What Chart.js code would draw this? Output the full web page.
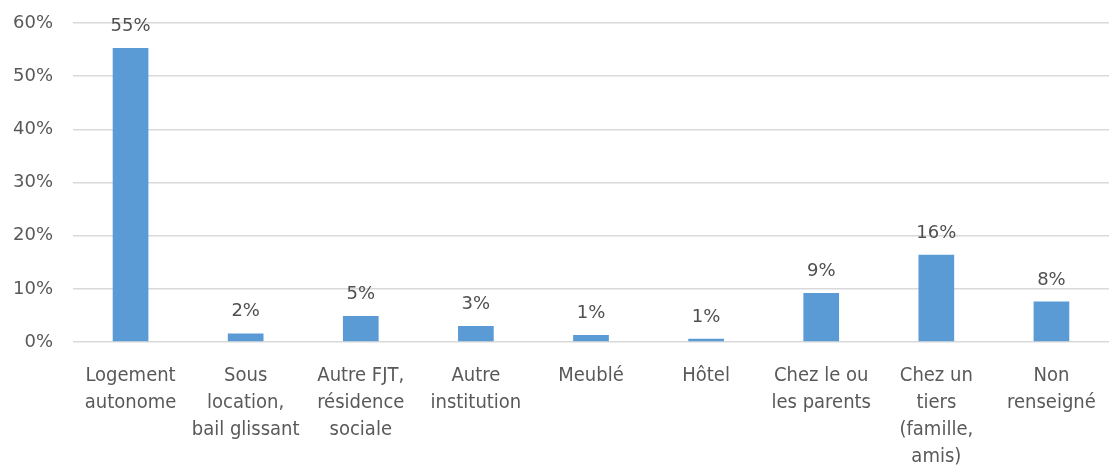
<!DOCTYPE html>
<html>
<head>
<meta charset="utf-8">
<script src="https://cdn.jsdelivr.net/npm/chart.js@4"></script>
<style>
  html, body { margin: 0; padding: 0; background: #fff; }
  #wrap { width: 1113px; height: 472px; }
</style>
</head>
<body>
<div id="wrap"><canvas id="housingChart"></canvas></div>
<script>
const categories = [
    ['Logement', 'autonome'],
    ['Sous', 'location,', 'bail glissant'],
    ['Autre FJT,', 'résidence', 'sociale'],
    ['Autre', 'institution'],
    ['Meublé'],
    ['Hôtel'],
    ['Chez le ou', 'les parents'],
    ['Chez un', 'tiers', '(famille,', 'amis)'],
    ['Non', 'renseigné']
];
const shares = [55.3, 1.6, 4.9, 3.0, 1.3, 0.6, 9.2, 16.4, 7.6];
const yTicks = [0, 10, 20, 30, 40, 50, 60];

const textColor = '#595959';

// draws "55%" etc above each bar
const barLabels = {
    id: 'barLabels',
    afterDatasetsDraw(chart) {
        const ctx = chart.ctx;
        const meta = chart.getDatasetMeta(0);
        ctx.save();
        ctx.fillStyle = '#505050';
        ctx.font = "18px 'DejaVu Sans', sans-serif";
        ctx.textAlign = 'center';
        ctx.textBaseline = 'alphabetic';
        meta.data.forEach((bar, i) => {
            ctx.fillText(Math.round(shares[i]) + '%', bar.x, bar.y - 17);
        });
        ctx.restore();
    }
};

const housingCtx = document.getElementById('housingChart').getContext('2d');

new Chart(housingCtx, {
    type: 'bar',
    data: {
        labels: categories,
        datasets: [{
            data: shares,
            backgroundColor: '#5b9bd5',
            borderWidth: 0,
            barPercentage: 0.31,
            categoryPercentage: 1
        }]
    },
    options: {
        responsive: true,
        maintainAspectRatio: false,
        animation: false,
        layout: { padding: { top: 23, right: 4, bottom: 0, left: 0 } },
        plugins: {
            legend: { display: false },
            tooltip: { enabled: false }
        },
        scales: {
            x: {
                afterFit(scale) {
                    scale.height = 130;
                    scale.paddingLeft = 0;
                    scale.paddingRight = 0;
                },
                grid: { display: false, drawTicks: false },
                border: { display: false },
                ticks: {
                    color: textColor,
                    font: { family: "'DejaVu Sans Condensed', sans-serif", size: 20, lineHeight: 1.35 },
                    padding: 20,
                    maxRotation: 0,
                    autoSkip: false
                }
            },
            y: {
                min: 0,
                max: 60,
                afterBuildTicks(scale) {
                    scale.ticks = yTicks.map(v => ({ value: v }));
                },
                afterFit(scale) {
                    scale.width = 73;
                    scale.paddingTop = 0;
                    scale.paddingBottom = 0;
                },
                grid: { color: '#d9d9d9', lineWidth: 1.5, drawTicks: false },
                border: { display: false },
                ticks: {
                    color: textColor,
                    font: { family: "'DejaVu Sans', sans-serif", size: 18 },
                    padding: 20,
                    callback: v => v + '%'
                }
            }
        }
    },
    plugins: [barLabels]
});
</script>
</body>
</html>
